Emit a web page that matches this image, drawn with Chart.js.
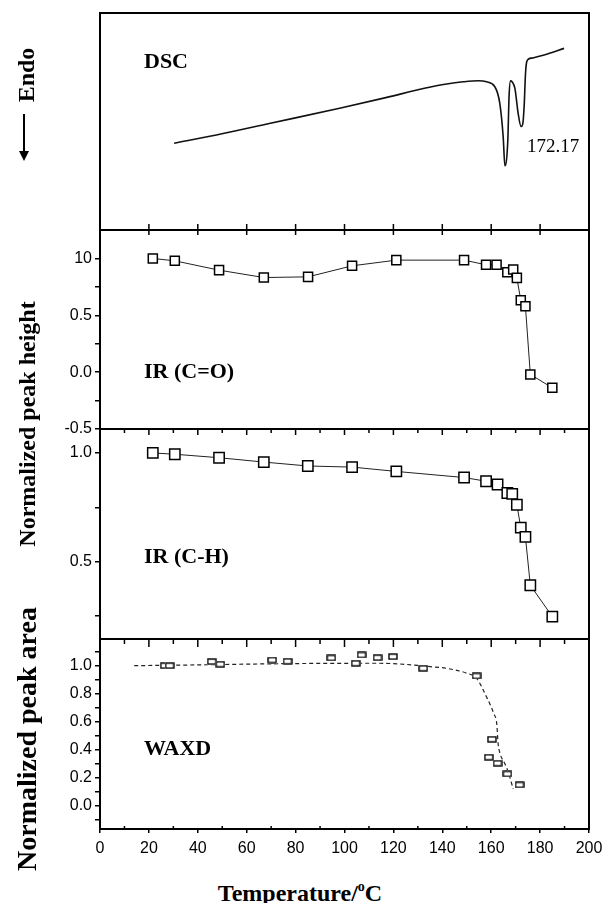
<!DOCTYPE html>
<html>
<head>
<meta charset="utf-8">
<script src="https://cdn.jsdelivr.net/npm/chart.js@4.4.1/dist/chart.umd.min.js"></script>
<style>
  body { margin: 0; background: #fff; }
  #wrap { position: relative; width: 606px; height: 903px; overflow: hidden; background: #fff; }
  canvas { position: absolute; left: 0; }
  .lbl { position: absolute; font-family: 'Liberation Serif', 'Times New Roman', serif; font-weight: bold; font-size: 22px; line-height: 22px; white-space: nowrap; color: #000; }
  .rot { transform: translate(-50%, -50%) rotate(-90deg); font-size: 24px; line-height: 24px; }
</style>
</head>
<body>
<div id="wrap">
  <canvas id="dsc" width="606" height="241" style="top:1px"></canvas>
  <canvas id="irco" width="606" height="223" style="top:218px"></canvas>
  <canvas id="irch" width="606" height="234" style="top:417px"></canvas>
  <canvas id="waxd" width="606" height="232" style="top:627px"></canvas>

  <div class="lbl rot" style="left:26px;top:75px">Endo</div>
  <svg style="position:absolute;left:14px;top:110px" width="20" height="55">
    <line x1="10" y1="4" x2="10" y2="44" stroke="#000" stroke-width="2"/>
    <polygon points="5,41 15,41 10,51" fill="#000"/>
  </svg>
  <div class="lbl rot" style="left:27px;top:424px">Normalized peak height</div>
  <div class="lbl rot" style="left:27px;top:739px;font-size:28px;line-height:28px">Normalized peak area</div>

  <div class="lbl" style="left:144px;top:50px">DSC</div>
  <div class="lbl" style="left:527px;top:136px;font-weight:normal;font-size:19px;line-height:19px">172.17</div>
  <div class="lbl" style="left:144px;top:360px">IR (C=O)</div>
  <div class="lbl" style="left:144px;top:545px">IR (C-H)</div>
  <div class="lbl" style="left:144px;top:737px">WAXD</div>
  <div class="lbl" style="left:300px;top:875px;transform:translateX(-50%);font-size:24px;line-height:24px">Temperature/<span style="font-size:14px;vertical-align:10px">o</span>C</div>
</div>
<script>
// temperature axis
const xMajor = [0, 20, 40, 60, 80, 100, 120, 140, 160, 180, 200];
const xMinor = [10, 30, 50, 70, 90, 110, 130, 150, 170, 190];

// DSC trace (arbitrary heat flow units)
const dscTemp = [30.3, 47.6, 69.7, 98.0, 116.9, 132.7, 141.8, 148.5, 154.8, 158.1, 161.5, 163.5, 164.9, 165.6, 166.8, 167.3, 167.9, 168.6, 169.7, 171.0, 172.2, 172.9, 173.5, 174.0, 174.5, 175.3, 177.0, 183.0, 189.8];
const dscFlow = [40.0, 43.8, 49.2, 56.1, 61.0, 65.3, 67.3, 68.3, 68.8, 68.3, 66.0, 58.5, 43.0, 29.6, 41.5, 61.4, 68.7, 68.2, 65.3, 53.9, 47.7, 48.8, 57.6, 71.4, 77.4, 78.8, 79.3, 81.1, 83.7];

// IR C=O normalized peak height
const coTemp = [21.6, 30.6, 48.7, 67.0, 85.1, 103.1, 121.2, 148.9, 157.9, 162.2, 166.6, 169.0, 170.5, 172.1, 174.0, 176.0, 185.0];
const coHeight = [1.0, 0.979, 0.897, 0.832, 0.838, 0.935, 0.985, 0.985, 0.944, 0.944, 0.879, 0.903, 0.829, 0.632, 0.579, -0.02, -0.138];
const coTicks = [-0.5, -0.25, 0, 0.25, 0.5, 0.75, 1.0];
const coLabels = ['-0.5', '', '0.0', '', '0.5', '', '10'];

// IR C-H normalized peak height
const chTemp = [21.6, 30.6, 48.7, 67.0, 85.0, 103.1, 121.2, 148.9, 157.9, 162.6, 166.6, 168.6, 170.5, 172.1, 174.0, 176.0, 185.0];
const chHeight = [1.0, 0.994, 0.978, 0.958, 0.94, 0.935, 0.915, 0.887, 0.870, 0.855, 0.816, 0.812, 0.762, 0.657, 0.614, 0.392, 0.248];
const chTicks = [0.25, 0.5, 0.75, 1.0];
const chLabels = ['', '0.5', '', '1.0'];

// WAXD normalized peak area
const waxdTemp = [26.5, 28.5, 45.7, 49.2, 70.4, 76.7, 94.6, 104.6, 107.0, 113.5, 119.8, 132.2, 154.0, 159.0, 160.3, 162.6, 166.6, 171.6];
const waxdArea = [1.0, 1.0, 1.029, 1.01, 1.04, 1.031, 1.055, 1.017, 1.076, 1.057, 1.064, 0.981, 0.927, 0.347, 0.475, 0.304, 0.228, 0.15];
const fitTemp = [14, 30, 50, 70, 90, 114.5, 128, 135, 142, 150, 154, 158, 161, 162.3, 162.8, 163.5, 165.6, 167, 169];
const fitArea = [1.0, 1.003, 1.008, 1.013, 1.016, 1.017, 1.005, 0.993, 0.98, 0.946, 0.91, 0.78, 0.66, 0.58, 0.45, 0.38, 0.3, 0.24, 0.12];
const waxdTicks = [-0.1, 0, 0.1, 0.2, 0.3, 0.4, 0.5, 0.6, 0.7, 0.8, 0.9, 1.0, 1.1];
const waxdLabels = ['', '0.0', '', '0.2', '', '0.4', '', '0.6', '', '0.8', '', '1.0', ''];

const pts = (xs, ys) => xs.map((x, i) => ({ x, y: ys[i] }));

Chart.defaults.font.family = "'Liberation Sans', Arial, sans-serif";
Chart.defaults.font.size = 16;
Chart.defaults.color = '#000';

// frame + inward x ticks
function makeFrame(marks) {
  return {
    id: 'frame',
    afterDraw(chart) {
      const { ctx, chartArea: a } = chart;
      const xs = chart.scales.x;
      ctx.save();
      ctx.strokeStyle = '#000';
      ctx.lineWidth = 1.5;
      marks.forEach(m => {
        m.values.forEach(v => {
          const px = xs.getPixelForValue(v);
          const y0 = m.edge === 'top' ? a.top : a.bottom;
          ctx.beginPath();
          ctx.moveTo(px, y0);
          ctx.lineTo(px, y0 + (m.edge === 'top' ? m.len : -m.len));
          ctx.stroke();
        });
      });
      ctx.lineWidth = 2;
      ctx.strokeRect(a.left, a.top, a.right - a.left, a.bottom - a.top);
      ctx.restore();
    }
  };
}

function yAxis(min, max, ticks, labels) {
  return {
    min, max,
    afterBuildTicks: s => { s.ticks = ticks.map(v => ({ value: v })); },
    afterFit: s => { s.width = 100; s.paddingTop = 0; s.paddingBottom = 0; },
    grid: { drawOnChartArea: false, drawTicks: true, tickLength: 5, color: '#000', lineWidth: 1.5 },
    border: { display: false },
    ticks: { autoSkip: false, padding: 3, callback: v => labels[ticks.indexOf(v)] }
  };
}

const hiddenX = { type: 'linear', min: 0, max: 200, display: false };

function panel(id, datasets, y, marks, x, padLeft) {
  return new Chart(document.getElementById(id), {
    type: 'scatter',
    data: { datasets },
    options: {
      responsive: false,
      animation: false,
      devicePixelRatio: 1,
      layout: { padding: { top: 12, bottom: x.display === false ? 12 : 0, left: padLeft, right: 17 } },
      plugins: { legend: { display: false }, tooltip: { enabled: false } },
      scales: { x, y }
    },
    plugins: [makeFrame(marks)]
  });
}

const markerStyle = {
  showLine: true, borderColor: '#222', borderWidth: 1,
  pointStyle: 'rect', pointBorderColor: '#000', pointBorderWidth: 1.5,
  pointBackgroundColor: '#fff'
};

// DSC
panel('dsc', [{
  data: pts(dscTemp, dscFlow), showLine: true, borderColor: '#111', borderWidth: 1.6,
  pointRadius: 0, cubicInterpolationMode: 'monotone'
}], { display: false, min: 0, max: 100 },
  [{ edge: 'bottom', values: xMajor, len: 6 }], hiddenX, 100);

// IR C=O
panel('irco', [Object.assign({ data: pts(coTemp, coHeight), pointRadius: 6.4 }, markerStyle)],
  yAxis(-0.5, 1.25, coTicks, coLabels),
  [{ edge: 'top', values: xMajor, len: 5 }], hiddenX, 0);

// IR C-H
panel('irch', [Object.assign({ data: pts(chTemp, chHeight), pointRadius: 7.3 }, markerStyle)],
  yAxis(0.145, 1.11, chTicks, chLabels),
  [{ edge: 'top', values: xMajor, len: 6 }, { edge: 'top', values: xMinor, len: 4 }], hiddenX, 0);

// WAXD
const box = document.createElement('canvas');
box.width = 10; box.height = 7;
const bc = box.getContext('2d');
bc.fillStyle = '#fff'; bc.fillRect(0, 0, 10, 7);
bc.strokeStyle = '#000'; bc.lineWidth = 1.4; bc.strokeRect(1, 1, 8, 5);

panel('waxd', [
  { data: pts(waxdTemp, waxdArea), pointStyle: box, pointRadius: 4, showLine: false },
  { data: pts(fitTemp, fitArea), showLine: true, borderColor: '#222', borderWidth: 1.2,
    borderDash: [4, 3], pointRadius: 0, cubicInterpolationMode: 'monotone' }
], yAxis(-0.165, 1.19, waxdTicks, waxdLabels),
  [{ edge: 'top', values: xMajor, len: 8 }, { edge: 'top', values: xMinor, len: 5 },
   { edge: 'bottom', values: xMinor, len: 3 }],
  {
    type: 'linear', min: 0, max: 200, display: true,
    afterBuildTicks: s => { s.ticks = xMajor.map(v => ({ value: v })); },
    afterFit: s => { s.height = 30; s.paddingLeft = 0; s.paddingRight = 0; },
    grid: { drawOnChartArea: false, drawTicks: true, tickLength: 4, color: '#000', lineWidth: 1.5 },
    border: { display: false },
    ticks: { autoSkip: false, padding: 6, maxRotation: 0 }
  }, 0);
</script>
</body>
</html>
